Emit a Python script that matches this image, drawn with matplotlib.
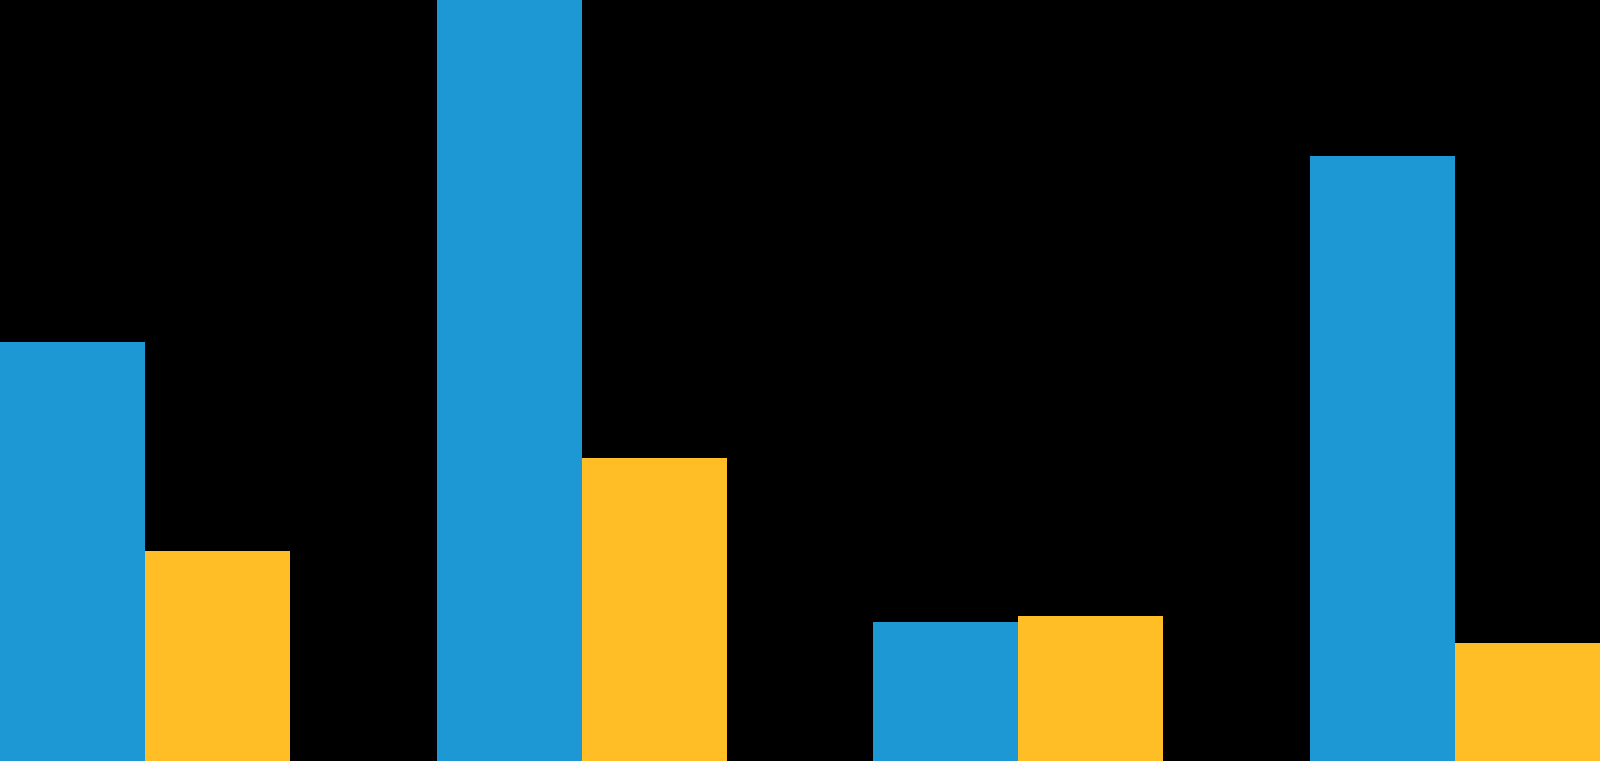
import numpy as np
import matplotlib
matplotlib.use("Agg")
import matplotlib.pyplot as plt

groups = ["A", "B", "C", "D"]
blue_vals = [55.0, 100.0, 18.2, 79.5]
yellow_vals = [27.6, 39.8, 19.0, 15.5]

w = 0.332
x = np.arange(len(groups))

fig = plt.figure(figsize=(16, 7.61), dpi=100, facecolor="black")
ax = fig.add_axes([0, 0, 1, 1])
ax.set_facecolor("black")

ax.bar(x, blue_vals, width=w, align="edge", color="#1E98D4")
ax.bar(x + w, yellow_vals, width=w, align="edge", color="#FFBE26")

ax.set_xlim(0, len(groups) - 1 + 2 * w)
ax.set_ylim(0, 100)
ax.axis("off")

fig.savefig("out.png", facecolor="black")
